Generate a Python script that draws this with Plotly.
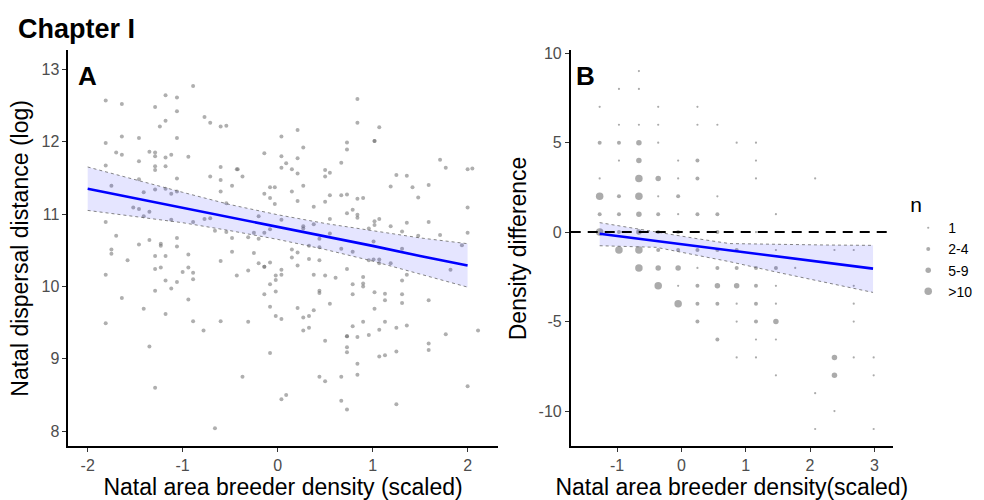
import plotly.graph_objects as go

# ---- panel A: natal dispersal distance (log) vs breeder density (scaled)
a_x = [-0.89, -1.81, -1.64, -1.18, -1.06, -1.29, -1.06, -1.18, -1.24, -0.77, -0.71, -0.60, -0.54,
       -1.81, -1.64, -1.46, -1.06, -1.70, -1.64, -1.35, -1.29, -1.29, -1.18, -1.12, -0.94, -1.46,
       -1.81, -1.29, -1.29, -1.18, -1.06, -1.46, -0.71, -0.60, -0.60, -0.43, -0.42, -0.37, -0.14,
       -1.75, -1.41, -1.29, -1.18, -1.12, -1.06, -0.60, -0.48, -0.08, -0.03, -0.14, -0.08, -0.03,
       -0.54, -1.52, -1.46, -1.35, -1.41, -1.81, -1.12, -0.89, -0.77, -0.71, -0.66, -0.54, -0.48,
       -0.31, -0.25, -0.20, -0.14, -0.08, -0.20, -1.70, -1.35, -1.06,
       0.84, 0.84, 1.07, 0.21, 0.04, 1.02, 1.02, 0.73, 0.27, 0.73, 0.04, 0.21, 0.09, 0.04, 0.15,
       0.67, 0.50, 0.50, 0.55, 0.21, 1.71, 1.77, 2.00, 2.05, 1.25, 1.36, 1.19, 1.42, 1.59, 0.27,
       0.15, 1.48, 0.55, 0.67, 0.73, 0.50, 0.21, 0.84, 0.90, 0.38, 2.00, 0.79, 0.73, 0.84, 0.84,
       0.55, 1.07, 1.02, 1.02, 1.59, 1.36, 1.19, 0.96, 0.38, 0.27, 0.27, 0.04, 1.31,
       -1.23, -1.23, -1.06, -1.46, -1.75, -1.75, -1.29, -1.18, -1.58, -0.94, -0.60, -0.48, -0.25,
       -0.20, -0.14, -0.14, -0.08, -1.81, -1.29, -1.23, -1.00, -0.94, -0.89, -0.89, -0.43, -0.31,
       -0.02, -0.02, -1.18, -1.06, -1.12, -1.29, -0.94, -0.14, -0.02, -0.08, -1.64, -1.41, -1.18,
       -0.89, -0.60, -0.31, -0.08, -0.02, -1.81, -0.78, -1.35, -0.08, -0.37, -1.29, -0.66,
       0.55, 0.44, 1.01, 1.31, 1.48, 1.71, 2.00, 1.94, 0.15, 0.15, 0.21, 0.33, 0.44, 0.67, 0.79,
       0.96, 1.01, 1.07, 1.07, 1.19, 1.31, 1.36, 1.82, 0.21, 0.33, 0.44, 0.04, 0.04, 0.38, 0.50,
       0.61, 0.73, 0.79, 0.90, 0.90, 0.90, 0.79, 0.44, 0.44, 1.02, 1.13, 1.13, 1.31, 1.31, 1.59,
       0.55, 1.02, 0.21, 0.38, 0.33, 0.27, 0.27, 0.33, 0.79, 0.90, 1.13, 1.07, 0.96, 0.84, 0.73,
       0.73, 1.25, 1.36, 1.77, 2.11, 0.04, 0.50, 0.73, 0.73, 1.59, 1.59, 1.07, 1.13, 1.25, 0.84,
       0.84, 0.67, 0.44, 0.50, 2.00, 0.04, 0.09, 0.67, 0.73, 1.25]
a_y = [12.77, 12.57, 12.52, 12.64, 12.61, 12.48, 12.42, 12.29, 12.21, 12.34, 12.26, 12.21, 12.22,
       11.98, 12.07, 12.05, 12.05, 11.85, 11.82, 11.86, 11.85, 11.80, 11.78, 11.82, 11.79, 11.73,
       11.67, 11.66, 11.61, 11.66, 11.49, 11.48, 11.52, 11.65, 11.47, 11.62, 11.62, 11.52, 11.84,
       11.39, 11.30, 11.34, 11.35, 11.28, 11.31, 11.31, 11.39, 11.37, 11.37, 11.28, 11.22, 11.14,
       11.15, 11.09, 11.07, 11.03, 10.97, 10.89, 10.92, 10.89, 10.93, 10.94, 10.77, 10.75, 10.67,
       10.68, 10.74, 10.66, 10.74, 10.79, 10.97, 10.70, 10.64, 10.67,
       12.59, 12.26, 12.20, 12.16, 12.07, 12.01, 12.01, 11.99, 11.92, 11.89, 11.80, 11.77, 11.70,
       11.64, 11.62, 11.71, 11.61, 11.52, 11.57, 11.56, 11.75, 11.64, 11.62, 11.63, 11.54, 11.53,
       11.38, 11.37, 11.40, 11.39, 11.31, 11.23, 11.26, 11.26, 11.27, 11.17, 11.18, 11.21, 11.22,
       11.10, 11.09, 11.06, 11.01, 10.99, 10.95, 10.93, 10.93, 10.90, 10.85, 10.89, 10.88, 10.83,
       10.80, 10.86, 10.83, 10.80, 10.92, 10.76,
       10.59, 10.56, 10.55, 10.58, 10.51, 10.45, 10.42, 10.42, 10.36, 10.44, 10.35, 10.48, 10.46,
       10.32, 10.27, 10.27, 10.33, 10.16, 10.24, 10.26, 10.20, 10.26, 10.19, 10.10, 10.15, 10.22,
       10.15, 10.09, 10.08, 10.06, 9.97, 9.94, 9.82, 9.89, 9.93, 10.03, 9.84, 9.69, 9.62,
       9.52, 9.52, 9.51, 9.72, 9.59, 9.49, 9.39, 9.17, 9.08, 8.75, 8.60, 8.04,
       10.73, 10.66, 10.62, 10.52, 10.70, 10.71, 10.74, 10.57, 10.51, 10.40, 10.47, 10.56, 10.54,
       10.52, 10.48, 10.36, 10.37, 10.37, 10.32, 10.32, 10.08, 10.16, 10.23, 10.29, 10.38, 10.36,
       10.23, 10.16, 10.16, 10.15, 10.12, 10.24, 10.03, 10.13, 10.04, 10.00, 9.89, 9.94, 9.91,
       9.92, 9.90, 9.81, 9.89, 9.77, 9.81, 9.76, 9.69, 9.70, 9.67, 9.59, 9.57, 9.39, 9.43, 9.45,
       9.51, 9.51, 9.40, 9.33, 9.30, 9.31, 9.31, 9.43, 9.46, 9.34, 9.39, 9.55, 9.25, 9.16, 9.09,
       9.21, 9.12, 9.03, 9.05, 9.10, 8.93, 8.78, 8.75, 8.75, 8.69, 8.62, 8.44, 8.50, 8.42, 8.30,
       8.37]

a_band_x = [-2, -1.5, -1, -0.5, 0, 0.5, 1, 1.5, 2]
a_fit = [11.35, 11.22, 11.09, 10.95, 10.82, 10.69, 10.56, 10.42, 10.29]
a_hi = [11.65, 11.47, 11.30, 11.13, 10.99, 10.87, 10.77, 10.67, 10.59]
a_lo = [11.05, 10.97, 10.88, 10.77, 10.65, 10.51, 10.35, 10.17, 9.99]

# ---- panel B: density difference, point size = number of birds
n_labels = ["1", "2-4", "5-9", ">10"]
n1_x = [-1.27, -1.27, -0.97, -0.97, -0.97, -0.66, -0.66, -0.66, -0.36, -0.36, -0.36, -0.36,
        -0.05, -0.05, -0.05, -0.05, 0.25, 0.25, 0.25, 0.56, 0.56, 0.86, 0.86, 0.86, 0.86,
        1.16, 1.16, 1.16, 1.16, 1.16, 1.16, 1.47, 1.47, 1.47, 1.47, 1.47, 1.47, 1.77,
        2.08, 2.08, 2.08, 2.38, 2.38, 2.68, 2.68, 2.68, 2.68, 2.68, 2.99, 2.99, 2.99]
n1_y = [7, 3, 8, 6, 4, 9, 8, 6, 7, 6, 5, 2,
        4, 3, 1, -3, 7, 6, -2, 6, 2, 5, -4, -5, -7,
        5, 4, 3, 0, -6, -7, 1, -1, -3, -4, -6, -8, -2,
        3, -9, -11, -1, -10, -1, -3, -4, -5, -7, -7, -8, -11]
n2_x = [-1.27, -1.27, -0.97, -0.97, -0.97, -0.97, -0.36, -0.36, -0.36, -0.05, -0.05, -0.05,
        0.25, 0.25, 0.25, 0.25, 0.25, 0.25, 0.25, 0.56, 0.56, 0.56, 0.56, 0.56, 0.56,
        0.86, 0.86, 1.16, 1.16, 1.16, 1.16, 1.47]
n2_y = [5, 1, 5, 2, 1, 0, 1, 0, -1, 2, 0, -1,
        4, 3, 1, -1, -3, -4, -5, 1, 0, -1, -2, -4, -6,
        -1, -2, -2, -3, -4, -5, -2]
n3_x = [-0.66, -0.66, -0.66, -0.66, -0.36, -0.36, -0.05, 0.56, 0.86, 1.47, 2.38, 2.38]
n3_y = [5, 4, 1, 0, 3, -2, -2, -3, -3, -5, -7, -8]
n4_x = [-1.27, -1.27, -0.97, -0.66, -0.66, -0.66, -0.66, -0.36, -0.05]
n4_y = [2, 0, -1, 3, 2, -1, -2, -3, -4]
n_sizes = [2.2, 4, 5.5, 7.5]

b_band_x = [-1.27, -0.39, 0.25, 0.75, 1.5, 2.25, 2.98]
b_hi = [0.53, 0.0, -0.37, -0.64, -0.70, -0.72, -0.74]
b_lo = [-0.76, -0.85, -1.30, -1.65, -2.25, -2.82, -3.37]
b_fit_x = [-1.27, 2.98]
b_fit = [-0.09, -2.04]

a_ticks = [-2, -1, 0, 1, 2]
a_ticktext = ["-2", "-1", "0", "1", "2"]
a_yticks = [8, 9, 10, 11, 12, 13]
b_ticks = [-1, 0, 1, 2, 3]
b_ticktext = ["-1", "0", "1", "2", "3"]
b_yticks = [-10, -5, 0, 5, 10]
b_yticktext = ["-10", "-5", "0", "5", "10"]

FONT = "Liberation Sans, Arial, sans-serif"
band_line = dict(color="#666666", width=0.8, dash="dot")

fig = go.Figure()

fig.add_trace(go.Scatter(x=a_x, y=a_y, mode="markers", showlegend=False,
                         marker=dict(size=4, color="rgba(110,110,110,0.55)"),
                         xaxis="x", yaxis="y"))
fig.add_trace(go.Scatter(x=a_band_x, y=a_lo, mode="lines", line=band_line,
                         showlegend=False, xaxis="x", yaxis="y"))
fig.add_trace(go.Scatter(x=a_band_x, y=a_hi, mode="lines", line=band_line, fill="tonexty",
                         fillcolor="rgba(0,0,255,0.1)", showlegend=False, xaxis="x", yaxis="y"))
fig.add_trace(go.Scatter(x=a_band_x, y=a_fit, mode="lines", line=dict(color="#0000ff", width=2.6),
                         showlegend=False, xaxis="x", yaxis="y"))

groups = [(n1_x, n1_y), (n2_x, n2_y), (n3_x, n3_y), (n4_x, n4_y)]
for (gx, gy), lab, sz in zip(groups, n_labels, n_sizes):
    fig.add_trace(go.Scatter(x=gx, y=gy, mode="markers", name=lab,
                             marker=dict(size=sz, color="rgba(120,120,120,0.62)"),
                             xaxis="x2", yaxis="y2"))

fig.add_trace(go.Scatter(x=b_band_x, y=b_lo, mode="lines", line=band_line,
                         showlegend=False, xaxis="x2", yaxis="y2"))
fig.add_trace(go.Scatter(x=b_band_x, y=b_hi, mode="lines", line=band_line, fill="tonexty",
                         fillcolor="rgba(0,0,255,0.1)", showlegend=False, xaxis="x2", yaxis="y2"))
fig.add_trace(go.Scatter(x=b_fit_x, y=b_fit, mode="lines", line=dict(color="#0000ff", width=2.6),
                         showlegend=False, xaxis="x2", yaxis="y2"))

fig.add_shape(type="line", xref="x2 domain", yref="y2", x0=0, x1=1, y0=0, y1=0,
              line=dict(color="black", width=2, dash="10px,7px"))

axis_common = dict(showline=True, linecolor="black", linewidth=1.6, ticks="outside",
                   ticklen=4, tickwidth=1, tickcolor="#333333", showgrid=False, zeroline=False,
                   tickfont=dict(size=16, color="#4d4d4d", family=FONT), tickmode="array")
title_font = dict(size=23, color="black", family=FONT)

fig.update_layout(
    width=984, height=500,
    margin=dict(l=0, r=0, t=0, b=0),
    plot_bgcolor="white", paper_bgcolor="white",
    font=dict(family=FONT, color="black"),
    xaxis=dict(axis_common, domain=[0.0694, 0.506], range=[-2.204, 2.319],
               tickvals=a_ticks, ticktext=a_ticktext, anchor="y",
               title=dict(text="Natal area breeder density (scaled)", font=title_font, standoff=4)),
    yaxis=dict(axis_common, domain=[0.1086, 0.91], range=[7.79, 13.26],
               tickvals=a_yticks, anchor="x",
               title=dict(text="Natal dispersal distance (log)", font=title_font, standoff=6)),
    xaxis2=dict(axis_common, domain=[0.580, 0.9075], range=[-1.72, 3.29],
                tickvals=b_ticks, ticktext=b_ticktext, anchor="y2",
                title=dict(text="Natal area breeder density(scaled)", font=title_font, standoff=4)),
    yaxis2=dict(axis_common, domain=[0.1086, 0.91], range=[-11.97, 10.15],
                tickvals=b_yticks, ticktext=b_yticktext, anchor="x2",
                title=dict(text="Density difference", font=title_font, standoff=6)),
    legend=dict(x=0.923, y=0.638, xanchor="left", yanchor="top", bgcolor="rgba(0,0,0,0)",
                traceorder="normal",
                title=dict(text="n", font=dict(size=21, family=FONT)),
                font=dict(size=14, family=FONT), itemsizing="trace", tracegroupgap=0),
    annotations=[
        dict(text="<b>Chapter I</b>", x=16 / 984, y=1 - 23 / 500, xref="paper", yref="paper",
             xanchor="left", yanchor="middle", showarrow=False, font=dict(size=27, family=FONT)),
        dict(text="<b>A</b>", x=76 / 984, y=1 - 71 / 500, xref="paper", yref="paper",
             xanchor="left", yanchor="middle", showarrow=False, font=dict(size=26, family=FONT)),
        dict(text="<b>B</b>", x=574 / 984, y=1 - 71 / 500, xref="paper", yref="paper",
             xanchor="left", yanchor="middle", showarrow=False, font=dict(size=26, family=FONT)),
    ],
)

fig.write_html("out.html", config={"displayModeBar": False},
               post_script="document.body.style.margin='0px';")
